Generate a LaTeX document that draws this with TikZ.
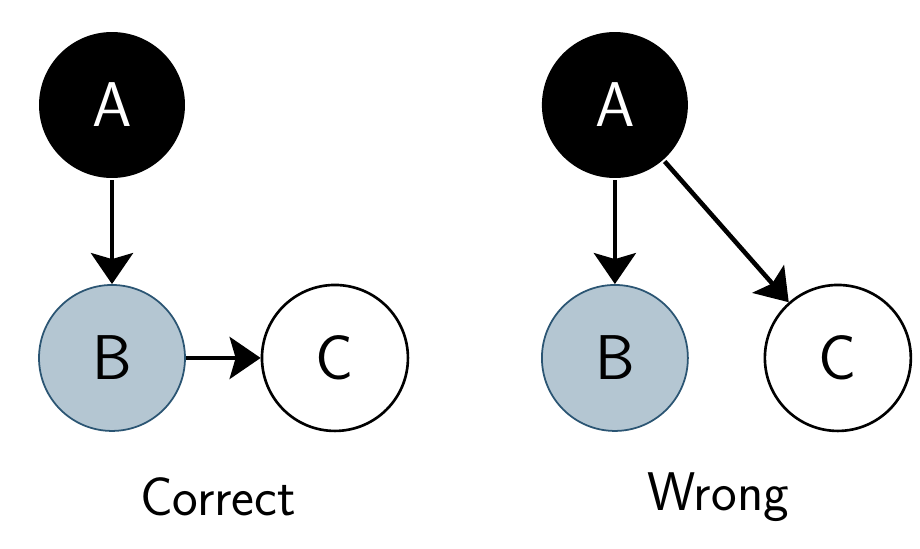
\documentclass[tikz,border=0pt]{standalone}
\usetikzlibrary{arrows.meta}
\usepackage[dvipsnames]{xcolor}
\definecolor{obsfill}{HTML}{B4C6D2}
\definecolor{obsdraw}{HTML}{2B5573}

\begin{document}
\begin{tikzpicture}[x=0.02cm,y=-0.02cm,->,>={Stealth[length=0.62cm,width=0.84cm,inset=0.12cm]},line width=2.6pt,node distance=4.46cm,main node/.style={circle,minimum size=2.92cm,inner sep=0pt,font=\sffamily\fontsize{36}{40}\selectfont}]
            \useasboundingbox[fill=white] (0,0) rectangle (920,548);
            % correct
            \node [main node, fill=black, text=white](a1) at (112,105){A};
            \node [main node, fill=obsfill, draw=obsdraw, line width=1pt](b1) [below of=a1, yshift=-0.6cm]{B};
            \node [main node, draw, line width=1.5pt](c1) [right of=b1]{C};

            % wrong
            \node [main node, fill=black, text=white](a2) [right of=a1, xshift=5.6cm]{A};
            \node [main node, fill=obsfill, draw=obsdraw, line width=1pt](b2) [below of=a2, yshift=-0.6cm]{B};
            \node [main node, draw, line width=1.5pt](c2) [right of=b2]{C};

            \node (correct) at (218,497)[font=\sffamily\fontsize{31}{34}\selectfont]{Correct};
            \node (wrong) at (718,497)[font=\sffamily\fontsize{31}{34}\selectfont]{Wrong};

            \path
                (a1) edge (b1)
                (b1) edge (c1)
                (a2) edge (b2)
                (a2) edge (c2)
                ;
\end{tikzpicture}
\end{document}
